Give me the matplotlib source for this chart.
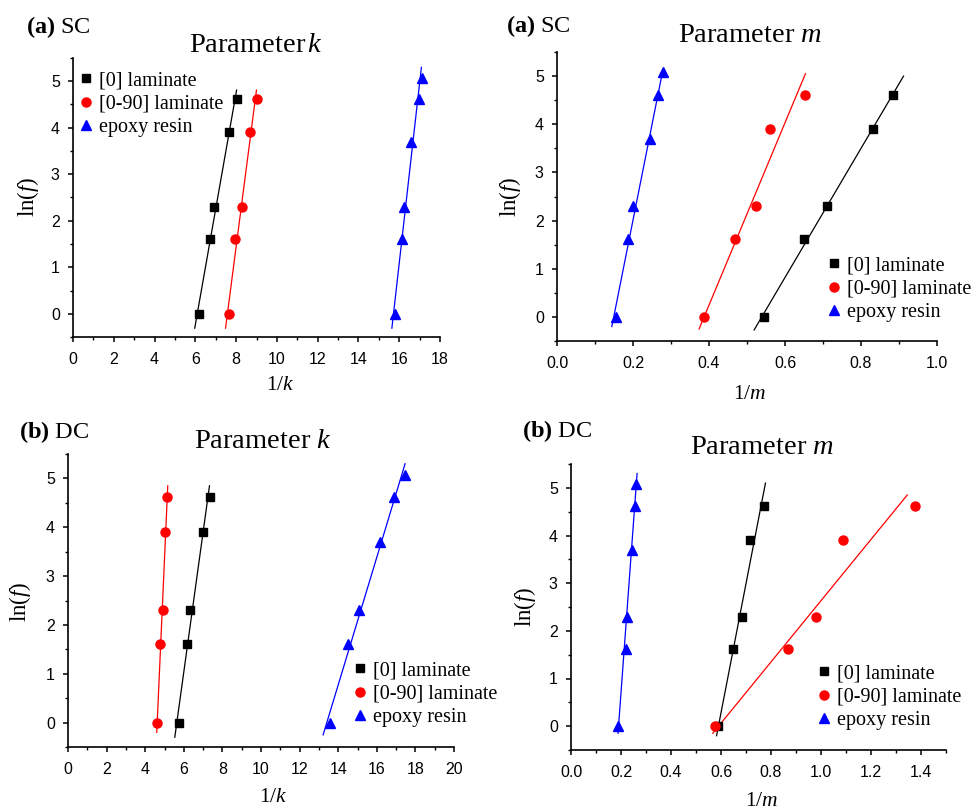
import numpy as np
import matplotlib
matplotlib.use("Agg")
import matplotlib.pyplot as plt
from matplotlib.ticker import MultipleLocator, AutoMinorLocator, FormatStrFormatter

plt.rcParams['font.family'] = ['Liberation Serif', 'DejaVu Serif']
plt.rcParams['mathtext.fontset'] = 'custom'
plt.rcParams['mathtext.rm'] = 'Liberation Serif'
plt.rcParams['mathtext.it'] = 'Liberation Serif:italic'
plt.rcParams['mathtext.bf'] = 'Liberation Serif:bold'

# ln(f) levels
lnf_lam = [0.0, 1.61, 2.30, 3.91, 4.61]
lnf_epoxy = [0.0, 1.61, 2.30, 3.69, 4.61, 5.08]

# (a) SC, 1/k
sc_k_0 = [6.16, 6.72, 6.92, 7.64, 8.02]
sc_k_090 = [7.64, 7.93, 8.30, 8.66, 9.02]
sc_k_ep = [15.79, 16.15, 16.21, 16.57, 16.95, 17.11]
# (a) SC, 1/m
sc_m_0 = [0.545, 0.649, 0.711, 0.832, 0.885]
sc_m_090 = [0.387, 0.469, 0.523, 0.560, 0.653]
sc_m_ep = [0.155, 0.186, 0.201, 0.244, 0.266, 0.280]
# (b) DC, 1/k
dc_k_0 = [5.74, 6.15, 6.31, 6.98, 7.35]
dc_k_090 = [4.63, 4.77, 4.91, 5.05, 5.15]
dc_k_ep = [13.57, 14.52, 15.07, 16.16, 16.91, 17.46]
# (b) DC, 1/m
dc_m_0 = [0.589, 0.649, 0.682, 0.714, 0.773]
dc_m_090 = [0.574, 0.868, 0.979, 1.089, 1.376]
dc_m_ep = [0.186, 0.218, 0.222, 0.245, 0.254, 0.258]

labels = ['[0] laminate', '[0-90] laminate', 'epoxy resin']
colors = ['black', 'red', 'blue']
markers = ['s', 'o', '^']
msizes = [6, 6.5, 7.5]

W, H = 980, 809
fig = plt.figure(figsize=(W / 100, H / 100), dpi=100)


def box(l, r, t, b):
    return [l / W, 1 - b / H, (r - l) / W, (b - t) / H]


def fx(x):
    return x / W


def fy(y):
    return 1 - y / H


panels = [
    dict(rect=box(73, 440, 58, 337), xlim=18, xmaj=2, xfmt='%d',
         data=[sc_k_0, sc_k_090, sc_k_ep], yr=[(-0.31, 4.81), (-0.31, 4.81), (-0.31, 5.3)],
         tag=r'$\mathbf{(a)}$ SC', tagxy=(26, 27), title=r'Parameter$\,k$', titxy=(256, 45),
         xlab=r'1/$k$', xlabxy=(280, 385), ylabxy=(28, 197), legxy=(80, 71)),
    dict(rect=box(557, 937, 52, 341), xlim=1.0, xmaj=0.2, xfmt='%.1f',
         data=[sc_m_0, sc_m_090, sc_m_ep], yr=[(-0.27, 5.0), (-0.25, 5.05), (-0.2, 5.05)],
         tag=r'$\mathbf{(a)}$ SC', tagxy=(506, 26), title=r'Parameter $m$', titxy=(750, 35),
         xlab=r'1/$m$', xlabxy=(750, 394), ylabxy=(510, 197), legxy=(828, 256)),
    dict(rect=box(68, 454, 454, 747), xlim=20, xmaj=2, xfmt='%d',
         data=[dc_k_0, dc_k_090, dc_k_ep], yr=[(-0.3, 4.85), (-0.2, 4.85), (-0.25, 5.3)],
         tag=r'$\mathbf{(b)}$ DC', tagxy=(19, 432), title=r'Parameter $k$', titxy=(263, 442),
         xlab=r'1/$k$', xlabxy=(273, 797), ylabxy=(20, 602), legxy=(354, 661)),
    dict(rect=box(571, 946, 464, 750), xlim=1.5, xmaj=0.2, xfmt='%.1f',
         data=[dc_m_0, dc_m_090, dc_m_ep], yr=[(-0.2, 5.1), (-0.15, 4.85), (-0.15, 5.3)],
         tag=r'$\mathbf{(b)}$ DC', tagxy=(522, 431), title=r'Parameter $m$', titxy=(762, 448),
         xlab=r'1/$m$', xlabxy=(762, 801), ylabxy=(525, 607), legxy=(818, 664)),
]

for p in panels:
    ax = fig.add_axes(p['rect'])
    for i, xs in enumerate(p['data']):
        ys = lnf_epoxy if i == 2 else lnf_lam
        ax.plot(xs, ys, linestyle='none', marker=markers[i], color=colors[i],
                markersize=msizes[i], label=labels[i], zorder=3)
        # linear fit, 1/k (or 1/m) against ln(f)
        a, b = np.polyfit(ys, xs, 1)
        yy = np.array(p['yr'][i])
        ax.plot(a * yy + b, yy, color=colors[i], lw=0.9, zorder=2)

    ax.set_xlim(0, p['xlim'])
    ax.set_ylim(-0.5, 5.5)
    ax.xaxis.set_major_locator(MultipleLocator(p['xmaj']))
    ax.xaxis.set_minor_locator(AutoMinorLocator(2))
    ax.xaxis.set_major_formatter(FormatStrFormatter(p['xfmt']))
    ax.yaxis.set_major_locator(MultipleLocator(1))
    ax.yaxis.set_minor_locator(AutoMinorLocator(2))
    for s in ['top', 'right']:
        ax.spines[s].set_visible(False)
    for s in ['left', 'bottom']:
        ax.spines[s].set_linewidth(1.2)
    ax.tick_params(which='major', direction='out', length=3.5, width=1.1,
                   labelsize=11.5, pad=6)
    ax.tick_params(which='minor', direction='out', length=2.5, width=1.0)
    ax.tick_params(axis='x', which='major', pad=7)
    for t in ax.get_xticklabels() + ax.get_yticklabels():
        t.set_family(['Liberation Sans', 'DejaVu Sans'])

    fig.text(fx(p['tagxy'][0]), fy(p['tagxy'][1]), p['tag'], fontsize=17.5,
             ha='left', va='center')
    fig.text(fx(p['titxy'][0]), fy(p['titxy'][1]), p['title'], fontsize=20.5,
             ha='center', va='center')
    fig.text(fx(p['xlabxy'][0]), fy(p['xlabxy'][1]), p['xlab'], fontsize=15.5,
             ha='center', va='center')
    fig.text(fx(p['ylabxy'][0]), fy(p['ylabxy'][1]), r'ln($f$)', fontsize=16.5,
             ha='center', va='center', rotation=90)

    ax.legend(loc='upper left', bbox_to_anchor=(fx(p['legxy'][0]), fy(p['legxy'][1])),
              bbox_transform=fig.transFigure, frameon=False, fontsize=14.5,
              borderpad=0, borderaxespad=0, handlelength=0.6, handletextpad=0.35,
              labelspacing=0.22, numpoints=1)

fig.savefig('out.png', dpi=100)
